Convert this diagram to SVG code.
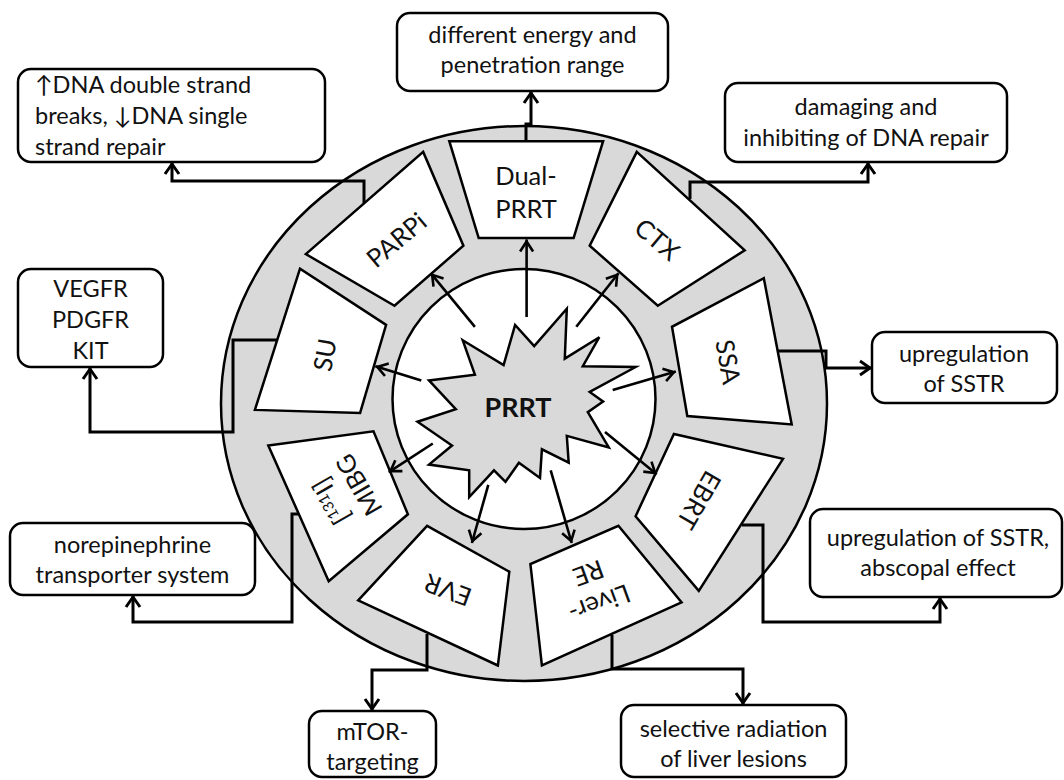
<svg xmlns="http://www.w3.org/2000/svg" width="1064" height="780" viewBox="0 0 1064 780">
<defs>
<style>
.box{fill:#fff;stroke:#000;stroke-width:2.5}
.seg{fill:#fff;stroke:#000;stroke-width:2.5;stroke-linejoin:miter}
.t{font-family:Lato,"Liberation Sans",sans-serif;font-size:23.5px;fill:#111}
.c{text-anchor:middle}
.lbl{font-family:Lato,"Liberation Sans",sans-serif;font-size:25.5px;fill:#111;text-anchor:middle}
.con{fill:none;stroke:#000;stroke-width:3;stroke-linejoin:miter;marker-end:url(#ah)}
.arr{fill:none;stroke:#000;stroke-width:2.6;marker-end:url(#ai)}
</style>
<marker id="ah" markerUnits="userSpaceOnUse" markerWidth="30" markerHeight="30" viewBox="-15 -15 30 30" refX="0" refY="0" orient="auto" overflow="visible">
<path d="M-12,-7 L-2,0 L-12,7" fill="none" stroke="#000" stroke-width="3"/>
</marker>
<marker id="ai" markerUnits="userSpaceOnUse" markerWidth="30" markerHeight="30" viewBox="-15 -15 30 30" refX="0" refY="0" orient="auto" overflow="visible">
<path d="M-12,-6.5 L-2,0 L-12,6.5" fill="none" stroke="#000" stroke-width="2.6"/>
</marker>
</defs>
<rect width="1064" height="780" fill="#fff"/>

<g id="ring">
<ellipse cx="524" cy="403.5" rx="303" ry="277.5" fill="#d9d9d9" stroke="#000" stroke-width="2.5"/>
<ellipse cx="524" cy="399" rx="131.5" ry="130" fill="#fff" stroke="#000" stroke-width="2.5"/>
</g>

<g id="seg-dual">
<polygon class="seg" points="449.3,141.2 603.1,141.2 573.6,238 478.7,238"/>
<text class="lbl" x="526" y="185">Dual-</text>
<text class="lbl" x="526" y="218">PRRT</text>
</g>
<g id="seg-ctx">
<polygon class="seg" points="636.8,151.9 744.7,250.3 657.8,305.8 589.7,245.7"/>
<g transform="translate(657,239.5) rotate(40)"><text class="lbl" y="9">CTX</text></g>
</g>
<g id="seg-ssa">
<polygon class="seg" points="763.8,278.2 791.7,424.4 687.3,416 672,326.8"/>
<g transform="translate(728,362) rotate(80)"><text class="lbl" y="9">SSA</text></g>
</g>
<g id="seg-ebrt">
<polygon class="seg" points="783,458.8 698.8,590.8 635.6,516.2 673.9,434"/>
<g transform="translate(699,500) rotate(120)"><text class="lbl" y="9">EBRT</text></g>
</g>
<g id="seg-liver">
<polygon class="seg" points="681.5,602.3 541.9,665.5 530.4,564.1 618.4,525.8"/>
<g transform="translate(594,588) rotate(160)"><text class="lbl" y="-7">Liver-</text><text class="lbl" y="25">RE</text></g>
</g>
<g id="seg-evr">
<polygon class="seg" points="497.9,665.5 358.2,600.4 427.1,525.8 509.3,571.7"/>
<g transform="translate(448,590) rotate(200)"><text class="lbl" y="9">EVR</text></g>
</g>
<g id="seg-mibg">
<polygon class="seg" points="328.7,581.3 268.3,445.4 373.5,431.3 407.9,514.3"/>
<g transform="translate(345,493) rotate(240)"><text class="lbl" y="-7">[<tspan font-size="15" dy="-9">131</tspan><tspan dy="9">I]</tspan></text><text class="lbl" y="25">MIBG</text></g>
</g>
<g id="seg-su">
<polygon class="seg" points="254.9,409.9 300,268.6 386.1,324.9 360.1,412.9"/>
<g transform="translate(325,355) rotate(280)"><text class="lbl" y="9">SU</text></g>
</g>
<g id="seg-parpi">
<polygon class="seg" points="305.8,254.1 423.2,151.9 463.4,245.7 394.5,305.8"/>
<g transform="translate(396.6,240) rotate(-40)"><text class="lbl" y="9">PARPi</text></g>
</g>

<g id="prrt">
<polygon points="462.7,340.2 503.6,365.1 515.1,324.9 534.2,346 566.8,308.8 564.8,358.6 599.3,337.2 582.8,366.2 635.6,367 589.7,391.9 603.1,401.4 587.8,412.2 608.8,447.4 566.8,435.9 568.7,462.7 541.9,449.3 540,478 518.9,462.7 505.5,481.8 494,470.3 469.2,497.1 469.2,470.3 429,464.6 452,445.5 417.5,421.7 455.8,409.1 429,380.4 474.9,374.7" fill="#d9d9d9" stroke="#000" stroke-width="2.5" stroke-linejoin="miter"/>
<text x="518" y="417" font-family="Lato,'Liberation Sans',sans-serif" font-weight="bold" font-size="27" fill="#111" text-anchor="middle">PRRT</text>
</g>

<g id="inner-arrows">
<line class="arr" x1="526.6" y1="317" x2="526.6" y2="239.5"/>
<line class="arr" x1="474.9" y1="326.8" x2="430.9" y2="273.3"/>
<line class="arr" x1="576.3" y1="326.8" x2="618.4" y2="273.3"/>
<line class="arr" x1="612.7" y1="390" x2="675.8" y2="371.6"/>
<line class="arr" x1="605" y1="432" x2="656.7" y2="474.2"/>
<line class="arr" x1="550.7" y1="470.3" x2="571.7" y2="543"/>
<line class="arr" x1="488.3" y1="484.9" x2="471.9" y2="543"/>
<line class="arr" x1="432.8" y1="443.5" x2="388.8" y2="472.2"/>
<line class="arr" x1="421.3" y1="380.4" x2="375.4" y2="366.3"/>
</g>

<g id="connectors">
<path class="con" d="M526,141 V124 H531 V91"/>
<path class="con" d="M364,203 V181 H172 V162"/>
<path class="con" d="M690,199 V182 H868 V162"/>
<path class="con" d="M277,340 H233 V432 H90 V367"/>
<path class="con" d="M778,351 H826 V368 H872"/>
<path class="con" d="M299,514 H292 V622 H133 V595"/>
<path class="con" d="M742,525 H763 V622 H940 V597"/>
<path class="con" d="M427,634 V670 H372 V711"/>
<path class="con" d="M612,635 V669 H743 V705"/>
</g>

<g id="box-energy">
<rect class="box" x="397" y="13" width="271" height="78" rx="13"/>
<text class="t c" x="532.5" y="43">different energy and</text>
<text class="t c" x="532.5" y="73">penetration range</text>
</g>
<g id="box-dna">
<rect class="box" x="18" y="69" width="307" height="93" rx="13"/>
<text class="t" x="35" y="93">↑DNA double strand</text>
<text class="t" x="35" y="124">breaks, ↓DNA single</text>
<text class="t" x="35" y="155">strand repair</text>
</g>
<g id="box-damage">
<rect class="box" x="725" y="83" width="282" height="79" rx="13"/>
<text class="t c" x="866" y="115">damaging and</text>
<text class="t c" x="866" y="146">inhibiting of DNA repair</text>
</g>
<g id="box-vegfr">
<rect class="box" x="18" y="269" width="145" height="98" rx="13"/>
<text class="t c" x="90.5" y="297">VEGFR</text>
<text class="t c" x="90.5" y="328">PDGFR</text>
<text class="t c" x="90.5" y="359">KIT</text>
</g>
<g id="box-sstr">
<rect class="box" x="872" y="332" width="185" height="71" rx="13"/>
<text class="t c" x="964" y="362">upregulation</text>
<text class="t c" x="964" y="392">of SSTR</text>
</g>
<g id="box-norepi">
<rect class="box" x="10" y="523" width="245" height="72" rx="13"/>
<text class="t c" x="132.5" y="553">norepinephrine</text>
<text class="t c" x="132.5" y="583">transporter system</text>
</g>
<g id="box-abscopal">
<rect class="box" x="810" y="509" width="252" height="88" rx="13"/>
<text class="t c" x="938" y="546">upregulation of SSTR,</text>
<text class="t c" x="938" y="576">abscopal effect</text>
</g>
<g id="box-mtor">
<rect class="box" x="309" y="711" width="127" height="66" rx="13"/>
<text class="t c" x="372.5" y="740">mTOR-</text>
<text class="t c" x="372.5" y="770">targeting</text>
</g>
<g id="box-liver">
<rect class="box" x="621" y="705" width="225" height="72" rx="13"/>
<text class="t c" x="733.5" y="737">selective radiation</text>
<text class="t c" x="733.5" y="767">of liver lesions</text>
</g>
</svg>
